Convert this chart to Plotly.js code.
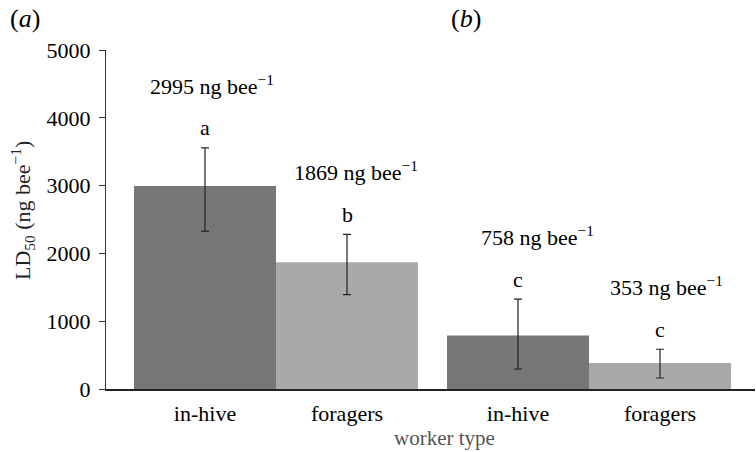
<!DOCTYPE html>
<html>
<head>
<meta charset="utf-8">
<script src="https://cdn.plot.ly/plotly-3.0.1.min.js"></script>
<style>html,body{margin:0;padding:0;background:#fff;}#chart{width:756px;height:452px;}</style>
</head>
<body>
<div id="chart"></div>
<script>
// ---- data ----
var groups = ["(a)", "(b)"];
var workerTypes = ["in-hive", "foragers"];
var inHiveMean = [2995, 790];
var foragersMean = [1869, 385];
var inHiveErrHigh = [3555, 1327];
var inHiveErrLow = [2330, 295];
var foragersErrHigh = [2282, 586];
var foragersErrLow = [1391, 162];
var inHiveLD50Text = ["2995", "758"];
var foragersLD50Text = ["1869", "353"];
var inHiveLetters = ["a", "c"];
var foragersLetters = ["b", "c"];

// ---- layout helpers ----
var FONT = "'Liberation Serif'";
var groupX = groups.map(function(_, i){ return i; });
var bargap = 0.0927;
var halfW = (1 - bargap) / 4;

function diff(a, b){ return a.map(function(v, i){ return v - b[i]; }); }

var traces = [
  {
    type: "bar", name: workerTypes[0], x: groupX, y: inHiveMean,
    marker: {color: "#777777", line: {width: 0}},
    error_y: {type: "data", symmetric: false,
      array: diff(inHiveErrHigh, inHiveMean), arrayminus: diff(inHiveMean, inHiveErrLow),
      color: "#222", thickness: 1.2, width: 4},
    hoverinfo: "skip"
  },
  {
    type: "bar", name: workerTypes[1], x: groupX, y: foragersMean,
    marker: {color: "#a9a9a9", line: {width: 0}},
    error_y: {type: "data", symmetric: false,
      array: diff(foragersErrHigh, foragersMean), arrayminus: diff(foragersMean, foragersErrLow),
      color: "#222", thickness: 1.2, width: 4},
    hoverinfo: "skip"
  }
];

var tickvals = [], ticktext = [];
groupX.forEach(function(g){
  tickvals.push(g - halfW); ticktext.push(workerTypes[0]);
  tickvals.push(g + halfW); ticktext.push(workerTypes[1]);
});

var annotations = [];
var labelXShift = [[7, 19], [9, 6]];
groupX.forEach(function(g, i){
  [[inHiveErrHigh, inHiveLD50Text, inHiveLetters, -halfW, 0],
   [foragersErrHigh, foragersLD50Text, foragersLetters, halfW, 1]].forEach(function(s){
    var xx = g + s[3], yy = s[0][i];
    annotations.push({x: xx, y: yy, xref: "x", yref: "y", text: s[2][i], showarrow: false,
      yanchor: "middle", yshift: 20, font: {family: FONT, size: 22, color: "#000"}});
    annotations.push({x: xx, y: yy, xref: "x", yref: "y",
      text: s[1][i] + " ng bee<sup>\u22121</sup>", showarrow: false,
      yanchor: "middle", yshift: 63, xshift: labelXShift[s[4]][i],
      font: {family: FONT, size: 22, color: "#000"}});
  });
});
// panel labels
annotations.push({x: 25, y: 18, xref: "pixel", text: "(<i>a</i>)", showarrow: false});
annotations.push({x: 466, y: 18, xref: "pixel", text: "(<i>b</i>)", showarrow: false});

var W = 756, H = 452, mL = 106, mR = 1, mT = 50, mB = 63;
var pw = W - mL - mR, ph = H - mT - mB;
function px(x){ return (x - mL) / pw; }
function py(y){ return (H - mB - y) / ph; }
annotations = annotations.map(function(a){
  if (a.xref === "pixel") {
    return {x: px(a.x), y: py(a.y), xref: "paper", yref: "paper", text: a.text, showarrow: false,
      xanchor: "center", yanchor: "middle", font: {family: FONT, size: 26, color: "#000"}};
  }
  return a;
});
annotations.push({x: px(444), y: py(438), xref: "paper", yref: "paper", text: "worker type",
  showarrow: false, xanchor: "center", yanchor: "middle", font: {family: FONT, size: 21, color: "#555"}});
annotations.push({x: px(22), y: py(211), xref: "paper", yref: "paper",
  text: "LD<sub>50</sub> (ng bee<sup>\u22121</sup>)", textangle: -90,
  showarrow: false, xanchor: "center", yanchor: "middle", font: {family: FONT, size: 22, color: "#222"}});

var xMin = -(276 - 106) / 313, xMax = 1 + (755 - 589) / 313;

var layout = {
  width: W, height: H,
  margin: {l: mL, r: mR, t: mT, b: mB, pad: 0},
  paper_bgcolor: "#fff", plot_bgcolor: "#fff",
  barmode: "group", bargap: bargap, bargroupgap: 0,
  showlegend: false,
  font: {family: FONT, size: 22, color: "#000"},
  xaxis: {range: [xMin, xMax], tickmode: "array", tickvals: tickvals, ticktext: ticktext,
    ticks: "", showgrid: false, zeroline: false, showline: true, linecolor: "#222", linewidth: 1.5,
    tickfont: {family: FONT, size: 22, color: "#000"}, ticklabelstandoff: 4},
  yaxis: {range: [0, 5000], tickvals: [0, 1000, 2000, 3000, 4000, 5000],
    ticks: "outside", ticklen: 6, tickcolor: "#333", tickwidth: 1,
    showgrid: false, zeroline: false, showline: true, linecolor: "#333", linewidth: 1,
    tickfont: {family: FONT, size: 22, color: "#000"}, ticklabelstandoff: 4},
  annotations: annotations
};

Plotly.newPlot("chart", traces, layout, {staticPlot: true, displayModeBar: false});
</script>
</body>
</html>
